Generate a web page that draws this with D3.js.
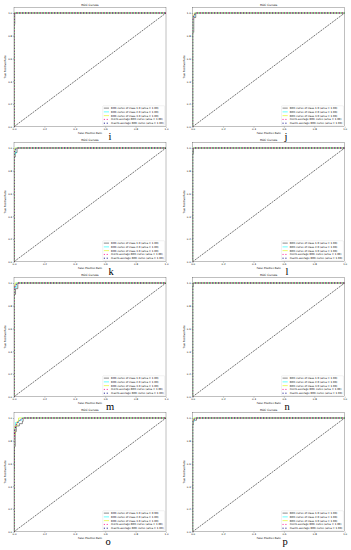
<!DOCTYPE html>
<html>
<head>
<meta charset="utf-8">
<script src="https://cdn.jsdelivr.net/npm/d3@7"></script>
<style>
  body { margin: 0; background: #fff; }
  svg { display: block; }
</style>
</head>
<body>
<svg id="chart" width="351" height="550"></svg>
<script>
// panel letters, left to right, top to bottom
var panelLetters = ['i', 'j', 'k', 'l', 'm', 'n', 'o', 'p'];
var classNames = ['1.0', '2.0', '3.0'];
var tickValues = [0, 0.2, 0.4, 0.6, 0.8, 1.0];

// areas: class 1.0, class 2.0, class 3.0, micro, macro
var areaI = [1.00, 1.00, 1.00, 1.00, 1.00];
var areaJ = [1.00, 1.00, 1.00, 1.00, 1.00];
var areaK = [1.00, 1.00, 1.00, 1.00, 1.00];
var areaL = [1.00, 1.00, 1.00, 1.00, 1.00];
var areaM = [1.00, 1.00, 1.00, 1.00, 1.00];
var areaN = [1.00, 1.00, 1.00, 1.00, 1.00];
var areaO = [0.99, 1.00, 1.00, 1.00, 1.00];
var areaP = [1.00, 1.00, 1.00, 1.00, 1.00];

// roc curves as [fpr, tpr] points: class 1.0, class 2.0, class 3.0, micro, macro
var rocI = [
  [[0, 0], [0, 0.9], [0.005, 0.9], [0.005, 1], [1, 1]],
  [[0, 0], [0, 1], [1, 1]],
  [[0, 0], [0, 1], [1, 1]],
  [[0, 0], [0, 0.97], [0.005, 1], [1, 1]],
  [[0, 0], [0, 0.97], [0.005, 1], [1, 1]]
];
var rocJ = [
  [[0, 0], [0, 0.83], [0.007, 0.83], [0.007, 0.96], [0.02, 0.96], [0.02, 1], [1, 1]],
  [[0, 0], [0, 0.97], [0.013, 0.97], [0.013, 1], [1, 1]],
  [[0, 0], [0, 0.98], [0.01, 0.98], [0.01, 1], [1, 1]],
  [[0, 0], [0, 0.93], [0.005, 0.97], [0.01, 0.99], [0.02, 1], [1, 1]],
  [[0, 0], [0, 0.95], [0.01, 0.98], [0.02, 1], [1, 1]]
];
var rocK = [
  [[0, 0], [0, 0.92], [0.008, 0.92], [0.008, 0.96], [0.02, 0.96], [0.02, 1], [1, 1]],
  [[0, 0], [0, 0.95], [0.012, 0.95], [0.012, 1], [1, 1]],
  [[0, 0], [0, 0.97], [0.006, 0.97], [0.006, 1], [1, 1]],
  [[0, 0], [0, 0.95], [0.01, 0.98], [0.02, 1], [1, 1]],
  [[0, 0], [0, 0.96], [0.01, 0.99], [0.02, 1], [1, 1]]
];
var rocL = [
  [[0, 0], [0, 0.95], [0.005, 0.95], [0.005, 1], [1, 1]],
  [[0, 0], [0, 1], [1, 1]],
  [[0, 0], [0, 1], [1, 1]],
  [[0, 0], [0, 0.98], [0.005, 1], [1, 1]],
  [[0, 0], [0, 0.98], [0.005, 1], [1, 1]]
];
var rocM = [
  [[0, 0], [0, 0.9], [0.01, 0.9], [0.01, 0.95], [0.025, 0.95], [0.025, 1], [1, 1]],
  [[0, 0], [0, 0.96], [0.015, 0.96], [0.015, 1], [1, 1]],
  [[0, 0], [0, 0.98], [0.008, 0.98], [0.008, 1], [1, 1]],
  [[0, 0], [0, 0.94], [0.01, 0.98], [0.025, 1], [1, 1]],
  [[0, 0], [0, 0.95], [0.01, 0.98], [0.025, 1], [1, 1]]
];
var rocN = [
  [[0, 0], [0, 0.97], [0.004, 0.97], [0.004, 1], [1, 1]],
  [[0, 0], [0, 1], [1, 1]],
  [[0, 0], [0, 1], [1, 1]],
  [[0, 0], [0, 0.99], [0.004, 1], [1, 1]],
  [[0, 0], [0, 0.99], [0.004, 1], [1, 1]]
];
var rocO = [
  [[0, 0], [0, 0.55], [0.003, 0.55], [0.003, 0.75], [0.008, 0.75], [0.008, 0.88], [0.015, 0.88], [0.015, 0.93],
   [0.035, 0.93], [0.035, 0.95], [0.055, 0.95], [0.055, 0.97], [0.06, 0.97], [0.06, 1], [1, 1]],
  [[0, 0], [0, 0.9], [0.01, 0.9], [0.01, 0.96], [0.03, 0.96], [0.03, 0.98], [0.05, 0.98], [0.05, 1], [1, 1]],
  [[0, 0], [0, 0.85], [0.006, 0.85], [0.006, 0.93], [0.02, 0.93], [0.02, 0.97], [0.03, 0.97], [0.03, 1], [1, 1]],
  [[0, 0], [0, 0.8], [0.005, 0.88], [0.01, 0.93], [0.02, 0.96], [0.04, 0.98], [0.06, 1], [1, 1]],
  [[0, 0], [0, 0.82], [0.006, 0.9], [0.015, 0.94], [0.03, 0.97], [0.05, 0.99], [0.06, 1], [1, 1]]
];
var rocP = [
  [[0, 0], [0, 0.94], [0.004, 0.94], [0.004, 0.98], [0.025, 0.98], [0.025, 1], [1, 1]],
  [[0, 0], [0, 0.97], [0.01, 0.97], [0.01, 1], [1, 1]],
  [[0, 0], [0, 0.98], [0.006, 0.98], [0.006, 1], [1, 1]],
  [[0, 0], [0, 0.96], [0.01, 0.99], [0.025, 1], [1, 1]],
  [[0, 0], [0, 0.97], [0.01, 0.99], [0.025, 1], [1, 1]]
];

var panelCurves = [rocI, rocJ, rocK, rocL, rocM, rocN, rocO, rocP];
var panelAreas = [areaI, areaJ, areaK, areaL, areaM, areaN, areaO, areaP];

// look of the five curves
var seriesColors = ['#3c3c3c', 'aqua', '#dcf500', 'deeppink', 'navy'];

var svg = d3.select('#chart');
var fmt1 = d3.format('.1f');
var fmt2 = d3.format('.2f');

var colX = [0, 178.7];
var rowY = [0, 135, 270, 405];
var letterX = [[110, 286], [111, 287], [110, 287], [108, 285]];

var font = 'DejaVu Sans, sans-serif';

function legendLabels(areas) {
  var out = classNames.map(function(c, i) {
    return 'ROC curve of class ' + c + ' (area = ' + fmt2(areas[i]) + ')';
  });
  out.push('micro-average ROC curve (area = ' + fmt2(areas[3]) + ')');
  out.push('macro-average ROC curve (area = ' + fmt2(areas[4]) + ')');
  return out;
}

panelLetters.forEach(function(letter, p) {
  var row = Math.floor(p / 2), col = p % 2;
  var left = colX[col] + 14, right = left + 152;
  var top = rowY[row] + 7.3, bottom = rowY[row] + 126.7;

  var x = d3.scaleLinear().domain([0, 1]).range([left, right]);
  var y = d3.scaleLinear().domain([0, 1.05]).range([bottom, top]);

  var g = svg.append('g');

  g.append('clipPath').attr('id', 'clip' + p)
    .append('rect')
    .attr('x', left).attr('y', top)
    .attr('width', right - left).attr('height', bottom - top);

  var line = d3.line().x(function(d) { return x(d[0]); }).y(function(d) { return y(d[1]); });

  var plot = g.append('g').attr('clip-path', 'url(#clip' + p + ')');
  var curves = panelCurves[p];

  // class curves first, then the diagonal, then the dotted averages on top
  [0, 1, 2].forEach(function(k) {
    plot.append('path').datum(curves[k])
      .attr('d', line)
      .attr('fill', 'none')
      .attr('stroke', seriesColors[k])
      .attr('stroke-width', 0.6);
  });
  plot.append('path').datum([[0, 0], [1, 1]])
    .attr('d', line)
    .attr('fill', 'none')
    .attr('stroke', '#000')
    .attr('stroke-width', 0.55)
    .attr('stroke-dasharray', '2,0.9');
  [4, 3].forEach(function(k) {
    plot.append('path').datum(curves[k])
      .attr('d', line)
      .attr('fill', 'none')
      .attr('stroke', seriesColors[k])
      .attr('stroke-width', 1.0)
      .attr('stroke-dasharray', '1,1.9')
      .attr('stroke-dashoffset', k === 4 ? 0.6 : 0);
  });

  // frame
  g.append('rect')
    .attr('x', left).attr('y', top)
    .attr('width', right - left).attr('height', bottom - top)
    .attr('fill', 'none')
    .attr('stroke', '#000')
    .attr('stroke-width', 0.25);

  // axes
  var xAxis = g.append('g').attr('transform', 'translate(0,' + bottom + ')')
    .call(d3.axisBottom(x).tickValues(tickValues).tickFormat(fmt1).tickSize(1).tickPadding(0.9));
  var yAxis = g.append('g').attr('transform', 'translate(' + left + ',0)')
    .call(d3.axisLeft(y).tickValues(tickValues).tickFormat(fmt1).tickSize(1).tickPadding(0.9));
  [xAxis, yAxis].forEach(function(a) {
    a.select('.domain').remove();
    a.selectAll('line').attr('stroke', '#000').attr('stroke-width', 0.25);
    a.selectAll('text').attr('font-size', 2.5).attr('font-family', font).attr('fill', '#000');
  });

  // title and axis labels
  g.append('text')
    .attr('x', (left + right) / 2).attr('y', top - 1.6)
    .attr('text-anchor', 'middle')
    .attr('font-family', font).attr('font-size', 2.9)
    .text('ROC Curves');
  g.append('text')
    .attr('x', (left + right) / 2).attr('y', bottom + 7.4)
    .attr('text-anchor', 'middle')
    .attr('font-family', font).attr('font-size', 2.6)
    .text('False Positive Rate');
  g.append('text')
    .attr('transform', 'translate(' + (left - 8.2) + ',' + ((top + bottom) / 2) + ') rotate(-90)')
    .attr('text-anchor', 'middle')
    .attr('font-family', font).attr('font-size', 2.6)
    .text('True Positive Rate');

  // legend, lower right
  var fs = 2.6;
  var labels = legendLabels(panelAreas[p]);
  var lg = g.append('g');
  var box = lg.append('rect')
    .attr('fill', '#fff').attr('fill-opacity', 0.8)
    .attr('stroke', '#ccc').attr('stroke-width', 0.25)
    .attr('rx', 0.6);
  var maxW = 0;
  var texts = labels.map(function(t) {
    var el = lg.append('text')
      .attr('font-family', font).attr('font-size', fs)
      .text(t);
    maxW = Math.max(maxW, el.node().getComputedTextLength());
    return el;
  });
  var rowStep = fs * 1.45;
  var bw = 0.4 * fs + 2 * fs + 0.8 * fs + maxW + 0.4 * fs;
  var bh = 0.4 * fs * 2 + rowStep * labels.length - 0.5 * fs;
  var bx = right - 0.5 * fs - bw;
  var by = bottom - 0.5 * fs - bh;
  box.attr('x', bx).attr('y', by).attr('width', bw).attr('height', bh);
  texts.forEach(function(el, k) {
    var cy = by + 0.4 * fs + rowStep * k + fs * 0.5;
    el.attr('x', bx + 0.4 * fs + 2.8 * fs).attr('y', cy + fs * 0.36);
    var hl = lg.append('line')
      .attr('x1', bx + 0.4 * fs).attr('x2', bx + 2.4 * fs)
      .attr('y1', cy).attr('y2', cy)
      .attr('stroke', seriesColors[k]);
    if (k >= 3) {
      hl.attr('stroke-width', 1.0).attr('stroke-dasharray', '1,1.9');
    } else {
      hl.attr('stroke-width', 0.6);
    }
  });

  // panel letter
  svg.append('text')
    .attr('x', letterX[row][col]).attr('y', rowY[row] + 139.5)
    .attr('text-anchor', 'middle')
    .attr('font-family', 'Liberation Serif, Times New Roman, serif')
    .attr('font-size', 10.5)
    .text(letter);
});
</script>
</body>
</html>
